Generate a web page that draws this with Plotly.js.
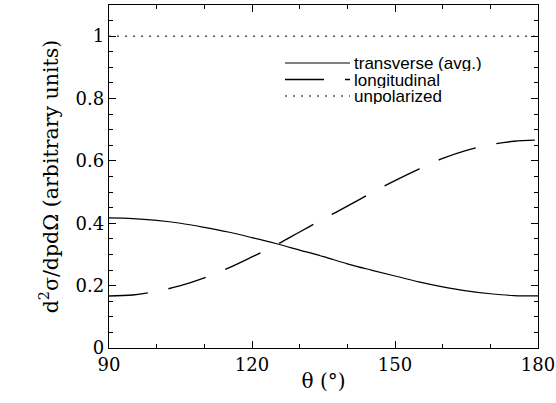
<!DOCTYPE html>
<html>
<head>
<meta charset="utf-8">
<script src="https://cdn.plot.ly/plotly-3.0.1.min.js"></script>
<style>html,body{margin:0;padding:0;background:#fff}#chart{width:556px;height:403px}</style>
</head>
<body>
<div id="chart"></div>
<script>
const theta = [90,95,100,105,110,115,120,125,130,135,140,145,150,155,160,165,170,175,180];
const transverse = [0.417,0.415,0.409,0.400,0.387,0.372,0.354,0.335,0.314,0.293,0.270,0.250,0.231,0.212,0.196,0.183,0.174,0.168,0.167];
const longitudinal = [0.167,0.170,0.182,0.200,0.225,0.256,0.292,0.330,0.372,0.414,0.455,0.497,0.537,0.574,0.608,0.634,0.652,0.663,0.667];
const unpolarized = [1,1,1,1,1,1,1,1,1,1,1,1,1,1,1,1,1,1,1];
const seriesNames = ["transverse (avg.)","longitudinal","unpolarized"];
const xTicks = [90,120,150,180];
const yTicks = [0,0.2,0.4,0.6,0.8,1];
const yTickLabels = ["0","0.2","0.4","0.6","0.8","1"];

const lineStyles = [
  {color: '#000', width: 1.2},
  {color: '#000', width: 1.4, dash: '39px,21px'},
  {color: '#000', width: 1, dash: '2px,6px'}
];
const ys = [transverse, longitudinal, unpolarized];
const traces = ys.map((y, i) => ({x: theta, y: y, name: seriesNames[i], mode: 'lines',
  line: Object.assign({shape: i < 2 ? 'spline' : 'linear'}, lineStyles[i]), showlegend: false}));

const serif = 'DejaVu Serif';
const sans = 'Liberation Sans';
// custom legend (paper coords): plot spans x 109..538, y 5..348
const px = v => (v - 109) / 429;
const py = v => (348 - v) / 343;
const legendRows = [63, 79.5, 96];
const shapes = legendRows.map((r, i) => ({type: 'line', xref: 'paper', yref: 'paper',
  x0: px(285), x1: px(350), y0: py(r), y1: py(r), line: lineStyles[i]}));
const annotations = legendRows.map((r, i) => ({xref: 'paper', yref: 'paper', x: px(353), y: py(r),
  xanchor: 'left', yanchor: 'middle', showarrow: false, text: seriesNames[i], height: 16, borderpad: 0,
  font: {family: sans, size: 17, color: '#000'}}));

const layout = {
  width: 556, height: 403,
  margin: {l: 109, r: 18, t: 5, b: 55},
  paper_bgcolor: '#fff', plot_bgcolor: '#fff',
  showlegend: false,
  shapes: shapes, annotations: annotations,
  xaxis: {range: [90, 180], tickvals: xTicks, ticks: 'inside', ticklen: 7, tickcolor: '#000', tickwidth: 1,
    showline: true, linecolor: '#000', linewidth: 1.2, mirror: 'ticks', showgrid: false, zeroline: false,
    tickfont: {family: serif, size: 18, color: '#000'},
    minor: {dtick: 10, ticks: 'inside', ticklen: 4, tickcolor: '#000', showgrid: false},
    title: {text: 'θ (°)', font: {family: serif, size: 20, color: '#000'}, standoff: 0}},
  yaxis: {range: [0, 1.1], tickvals: yTicks, ticktext: yTickLabels, ticks: 'inside', ticklen: 7, tickcolor: '#000', tickwidth: 1,
    showline: true, linecolor: '#000', linewidth: 1.2, mirror: 'ticks', showgrid: false, zeroline: false,
    tickfont: {family: serif, size: 18, color: '#000'},
    minor: {dtick: 0.05, ticks: 'inside', ticklen: 4, tickcolor: '#000', showgrid: false},
    title: {text: 'd<sup>2</sup>σ/dpdΩ (arbitrary units)', font: {family: serif, size: 20.5, color: '#000'}, standoff: 11}}
};
Plotly.newPlot('chart', traces, layout, {staticPlot: true, displayModeBar: false});
</script>
</body>
</html>
